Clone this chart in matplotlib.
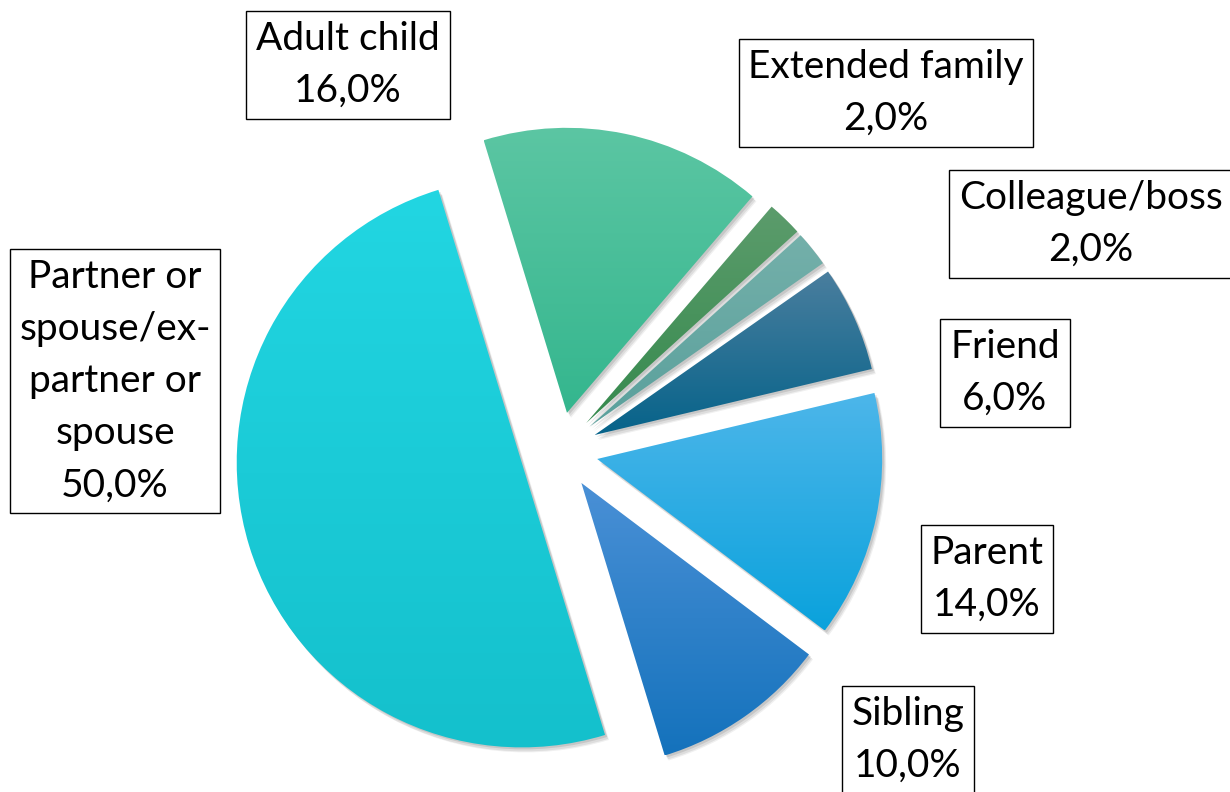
import matplotlib
matplotlib.use('Agg')
import matplotlib.pyplot as plt
import numpy as np
from matplotlib.colors import LinearSegmentedColormap
from matplotlib.patches import Wedge

# ---- data ----
categories = ["Adult child", "Extended family", "Colleague/boss", "Friend",
              "Parent", "Sibling", "Partner or spouse/ex-partner or spouse"]
display_labels = ["Adult child", "Extended family", "Colleague/boss", "Friend",
                  "Parent", "Sibling", "Partner or\nspouse/ex-\npartner or\nspouse"]
values = [16.0, 2.0, 2.0, 6.0, 14.0, 10.0, 50.0]
top_colors = ["#5CC6A3", "#5C9C6C", "#74B0AA", "#4A7E9E", "#4DB6EA", "#4A90D6", "#22D6E2"]
bottom_colors = ["#34B68E", "#368A4E", "#5AA09C", "#06638A", "#0AA2DC", "#1472BC", "#14C0CC"]

# ---- layout ----
W, H = 1230, 792
fig = plt.figure(figsize=(W / 100, H / 100), dpi=100)
ax = fig.add_axes([0, 0, 1, 1])
center = (559, H - 451)
R = 285
explode = [39] * len(values)

wedges, _ = ax.pie(values, center=center, radius=R, startangle=107,
                   counterclock=False, explode=explode, frame=True)

for i, w in enumerate(wedges):
    w.set_facecolor('none')
    w.set_edgecolor('none')
    verts = w.get_path().vertices
    xmin, ymin = verts.min(axis=0)
    xmax, ymax = verts.max(axis=0)
    # soft shadow
    for dx, dy, a in [(4, -5, 0.06), (3, -4, 0.08), (2, -2, 0.10)]:
        sh = Wedge((w.center[0] + dx, w.center[1] + dy), w.r, w.theta1, w.theta2,
                   facecolor='#000000', alpha=a, edgecolor='none', zorder=0.5)
        ax.add_patch(sh)
    cmap = LinearSegmentedColormap.from_list(f"g{i}", [top_colors[i], bottom_colors[i]])
    grad = np.linspace(0, 1, 256).reshape(-1, 1)
    im = ax.imshow(grad, cmap=cmap, aspect='auto', origin='upper',
                   extent=(xmin, xmax, ymin, ymax), zorder=1, interpolation='bilinear')
    im.set_clip_path(w)

label_xy = [(348, 65), (886, 93), (1091, 224), (1005, 373),
            (987, 579), (908, 740), (115, 381)]
for lab, v, (x, y) in zip(display_labels, values, label_xy):
    txt = lab + "\n" + (f"{v:.1f}".replace('.', ',') + "%")
    ax.text(x, H - y, txt, ha='center', va='center', fontsize=28,
            family=['Lato', 'DejaVu Sans'], linespacing=1.56, color='black',
            bbox=dict(boxstyle='square,pad=0.25', fc='white', ec='black', lw=1),
            zorder=5)

ax.set_xlim(0, W)
ax.set_ylim(0, H)
ax.set_aspect('auto')
ax.axis('off')
fig.savefig('out.png', dpi=100)
